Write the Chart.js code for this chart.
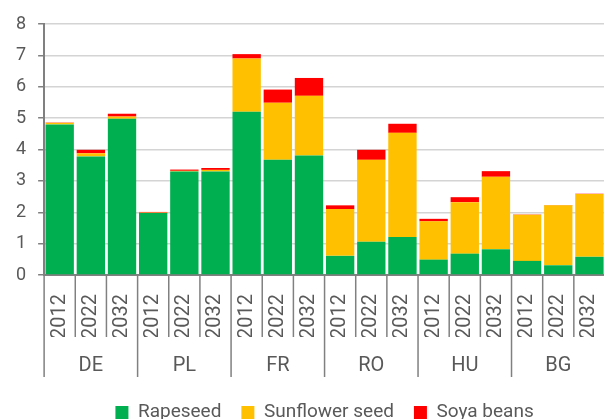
<!DOCTYPE html>
<html>
<head>
<meta charset="utf-8">
<script src="https://cdn.jsdelivr.net/npm/chart.js@4/dist/chart.umd.min.js"></script>
<style>
  html, body { margin: 0; padding: 0; overflow: hidden; background: #fff; }
  #wrap { width: 605px; height: 432px; position: relative; }
</style>
</head>
<body>
<div id="wrap"><canvas id="myChart"></canvas></div>
<script>
// values
const countries = ['DE', 'PL', 'FR', 'RO', 'HU', 'BG']
const years = ['2012', '2022', '2032']
const yTicks = [0, 1, 2, 3, 4, 5, 6, 7, 8]

const rapeseed = [4.80, 3.78, 4.98, 1.98, 3.30, 3.30, 5.20, 3.67, 3.81, 0.61, 1.06, 1.21, 0.49, 0.68, 0.82, 0.45, 0.31, 0.58]
const sunflower = [0.05, 0.10, 0.07, 0.01, 0.02, 0.05, 1.70, 1.82, 1.90, 1.49, 2.61, 3.32, 1.22, 1.64, 2.31, 1.47, 1.91, 2.00]
const soya = [0.01, 0.11, 0.09, 0.02, 0.04, 0.06, 0.14, 0.42, 0.57, 0.12, 0.32, 0.29, 0.08, 0.16, 0.18, 0.01, 0.01, 0.01]

const labels = countries.flatMap(() => years)

const font = "Roboto, 'DejaVu Sans', sans-serif"
const textColor = '#595959'
const axisColor = '#808080'

// vertical separators under the axis: short ones between years, long ones between countries
const separators = {
  id: 'separators',
  beforeDraw(chart) {
    // center the legend under the plot area, like the original
    const lg = chart.legend
    lg.left = chart.chartArea.left
    lg.right = chart.chartArea.right
  },
  afterDraw(chart) {
    const x = chart.scales.x
    const ctx = chart.ctx
    const step = x.getPixelForValue(1) - x.getPixelForValue(0)
    ctx.save()
    ctx.strokeStyle = axisColor
    ctx.lineWidth = 1.5
    for (let i = 0; i <= labels.length; i++) {
      const px = x.getPixelForValue(i) - step / 2
      const len = i % years.length === 0 ? 102 : 62
      ctx.beginPath()
      ctx.moveTo(px, x.top)
      ctx.lineTo(px, x.top + len)
      ctx.stroke()
    }
    ctx.restore()
  }
}

// rotated labels make chart.js reserve side room we don't want
const fixBand = height => scale => {
  scale.paddingLeft = 0
  scale.paddingRight = 0
  scale.height = height
}

const ctx = document.getElementById('myChart')
new Chart(ctx, {
  type: 'bar',
  data: {
    labels: labels,
    datasets: [
      { label: 'Rapeseed', data: rapeseed, backgroundColor: '#00B050' },
      { label: 'Sunflower seed', data: sunflower, backgroundColor: '#FFC000' },
      { label: 'Soya beans', data: soya, backgroundColor: '#FF0000' }
    ]
  },
  options: {
    responsive: true,
    maintainAspectRatio: false,
    animation: false,
    barPercentage: 0.91,
    categoryPercentage: 1,
    layout: { padding: { left: 4, top: 24, right: 0, bottom: 0 } },
    plugins: {
      tooltip: { enabled: false },
      legend: {
        position: 'bottom',
        labels: {
          boxWidth: 13,
          boxHeight: 13,
          padding: 20,
          color: textColor,
          font: { family: font, size: 19 }
        }
      }
    },
    scales: {
      x: {
        stacked: true,
        weight: 0,
        afterFit: fixBand(62),
        grid: { display: false },
        border: { color: axisColor, width: 2 },
        ticks: {
          autoSkip: false,
          minRotation: 90,
          maxRotation: 90,
          padding: 11,
          color: textColor,
          font: { family: font, size: 20 }
        }
      },
      x2: {
        type: 'category',
        labels: countries,
        position: 'bottom',
        weight: 1,
        afterFit: fixBand(46),
        grid: { display: false },
        border: { display: false },
        ticks: {
          padding: 9,
          color: textColor,
          font: { family: font, size: 20 }
        }
      },
      y: {
        stacked: true,
        min: yTicks[0],
        max: yTicks[yTicks.length - 1],
        afterBuildTicks(scale) {
          scale.ticks = yTicks.map(v => ({ value: v }))
        },
        grid: {
          color: '#d4d4d4',
          lineWidth: 1.5,
          tickColor: axisColor,
          tickLength: 6
        },
        border: { color: axisColor, width: 2 },
        ticks: {
          padding: 12,
          color: textColor,
          font: { family: font, size: 18 }
        }
      }
    }
  },
  plugins: [separators]
})
</script>
</body>
</html>
